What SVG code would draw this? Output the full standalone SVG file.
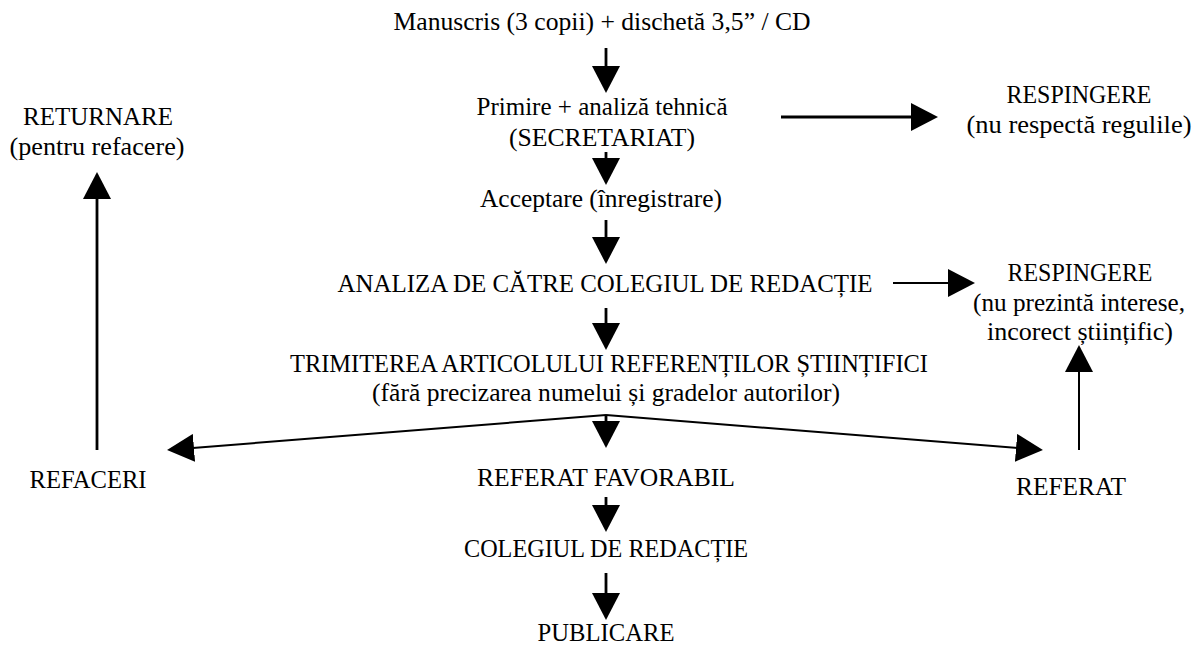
<svg xmlns="http://www.w3.org/2000/svg" width="1198" height="646" viewBox="0 0 1198 646" font-family="'Liberation Serif', 'Times New Roman', serif">
<defs>
<style>
text{font-size:26px;fill:#000;text-anchor:middle}
.c line{stroke:#000;marker-end:url(#ah)}
.w3{stroke-width:2.8}
.w2{stroke-width:2}
</style>
<marker id="ah" markerUnits="userSpaceOnUse" markerWidth="28" markerHeight="28" refX="17" refY="14" orient="auto" viewBox="0 0 28 28">
<path d="M0,0 L27,14 L0,28 Z" fill="#000"/>
</marker>
</defs>
<rect width="1198" height="646" fill="#fff"/>
<g id="n-manuscris"><text x="602" y="30" textLength="417" lengthAdjust="spacingAndGlyphs">Manuscris (3 copii) + dischetă 3,5” / CD</text></g>
<g id="n-primire"><text x="602" y="115" textLength="251" lengthAdjust="spacingAndGlyphs">Primire + analiză tehnică</text><text x="602" y="146" textLength="186" lengthAdjust="spacingAndGlyphs">(SECRETARIAT)</text></g>
<g id="n-acceptare"><text x="601" y="207" textLength="242" lengthAdjust="spacingAndGlyphs">Acceptare (înregistrare)</text></g>
<g id="n-analiza"><text x="605" y="292" textLength="535" lengthAdjust="spacingAndGlyphs">ANALIZA DE CĂTRE COLEGIUL DE REDACȚIE</text></g>
<g id="n-trimiterea"><text x="609" y="372" font-size="25" textLength="638" lengthAdjust="spacingAndGlyphs">TRIMITEREA ARTICOLULUI REFERENȚILOR ȘTIINȚIFICI</text><text x="606" y="401" font-size="25" textLength="468" lengthAdjust="spacingAndGlyphs">(fără precizarea numelui și gradelor autorilor)</text></g>
<g id="n-favorabil"><text x="606" y="486" textLength="258" lengthAdjust="spacingAndGlyphs">REFERAT FAVORABIL</text></g>
<g id="n-colegiul"><text x="606" y="557" textLength="284" lengthAdjust="spacingAndGlyphs">COLEGIUL DE REDACȚIE</text></g>
<g id="n-publicare"><text x="606" y="641" textLength="137" lengthAdjust="spacingAndGlyphs">PUBLICARE</text></g>
<g id="n-returnare"><text x="98" y="125" textLength="150" lengthAdjust="spacingAndGlyphs">RETURNARE</text><text x="97" y="155" textLength="175" lengthAdjust="spacingAndGlyphs">(pentru refacere)</text></g>
<g id="n-respingere1"><text x="1079" y="103" textLength="145" lengthAdjust="spacingAndGlyphs">RESPINGERE</text><text x="1079" y="133" textLength="225" lengthAdjust="spacingAndGlyphs">(nu respectă regulile)</text></g>
<g id="n-respingere2"><text x="1080" y="281" textLength="145" lengthAdjust="spacingAndGlyphs">RESPINGERE</text><text x="1079" y="311" textLength="212" lengthAdjust="spacingAndGlyphs">(nu prezintă interese,</text><text x="1080" y="340" textLength="186" lengthAdjust="spacingAndGlyphs">incorect științific)</text></g>
<g id="n-refaceri"><text x="88" y="488" textLength="117" lengthAdjust="spacingAndGlyphs">REFACERI</text></g>
<g id="n-referat"><text x="1071" y="495" textLength="110" lengthAdjust="spacingAndGlyphs">REFERAT</text></g>
<g id="connectors" class="c">
<line class="w3" x1="606" y1="48" x2="606" y2="83"/>
<line class="w3" x1="606" y1="152" x2="606" y2="175"/>
<line class="w3" x1="606" y1="220" x2="606" y2="254"/>
<line class="w3" x1="606" y1="308" x2="606" y2="340"/>
<line class="w3" x1="606" y1="415" x2="606" y2="438"/>
<line class="w3" x1="606" y1="497" x2="606" y2="522"/>
<line class="w3" x1="606" y1="573" x2="606" y2="610"/>
<line class="w2" x1="606" y1="415" x2="177" y2="449.2"/>
<line class="w2" x1="606" y1="415" x2="1033" y2="449.2"/>
<line class="w3" x1="97" y1="450" x2="97" y2="182"/>
<line class="w2" x1="1079" y1="450" x2="1079" y2="355"/>
<line class="w3" x1="781" y1="117" x2="928" y2="117"/>
<line class="w2" x1="893" y1="283" x2="965" y2="283"/>
</g>
</svg>
